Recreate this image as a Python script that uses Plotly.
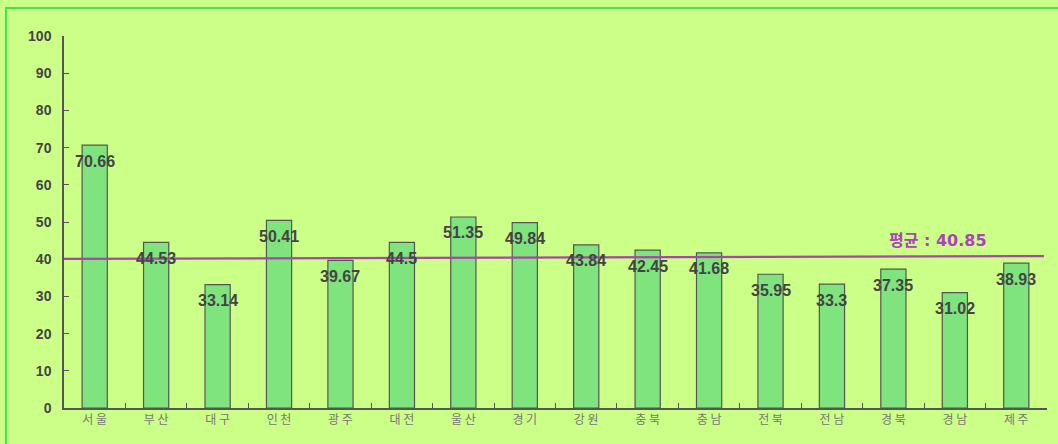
import plotly.graph_objects as go

regions = ["서울", "부산", "대구", "인천", "광주", "대전", "울산", "경기", "강원",
           "충북", "충남", "전북", "전남", "경북", "경남", "제주"]
values = [70.66, 44.53, 33.14, 50.41, 39.67, 44.5, 51.35, 49.84, 43.84,
          42.45, 41.68, 35.95, 33.3, 37.35, 31.02, 38.93]
tick_labels = ["서 울", "부 산", "대 구", "인 천", "광 주", "대 전", "울 산", "경 기", "강 원",
               "충 북", "충 남", "전 북", "전 남", "경 북", "경 남", "제 주"]
average = 40.85
avg_label = "평균 : 40.85"
y_ticks = [0, 10, 20, 30, 40, 50, 60, 70, 80, 90, 100]

bg = "#CCFF88"
fig = go.Figure()
fig.add_trace(go.Bar(
    x=regions, y=values,
    marker=dict(color="#80E47E", line=dict(color="#555555", width=1.2)),
    width=0.41, hoverinfo="x+y",
))

for r, v in zip(regions, values):
    fig.add_annotation(x=r, y=v, yshift=-16, text=str(v), showarrow=False,
                       font=dict(family="Liberation Sans, Arial", size=16, color="#444444", weight="bold"))

# average line
fig.add_shape(type="line", xref="x", yref="y", x0=-0.5, x1=15.45, y0=40.1, y1=average,
              line=dict(color="#A845A8", width=2.2))
fig.add_annotation(x=13.72, y=45.1, text=avg_label, showarrow=False,
                   font=dict(family="DejaVu Sans, Noto Sans CJK KR", size=16, color="#AA44BB", weight="bold"))

# outer border
fig.add_shape(type="rect", xref="paper", yref="paper",
              x0=-58/983, y0=-40/372, x1=1.05, y1=1 + 28/372,
              line=dict(color="#44E644", width=2), fillcolor="rgba(0,0,0,0)", layer="below")

fig.update_layout(
    width=1058, height=444,
    margin=dict(l=64, r=11, t=36, b=36),
    paper_bgcolor=bg, plot_bgcolor=bg,
    showlegend=False,
    xaxis=dict(
        type="category", tickvals=regions, ticktext=tick_labels,
        showline=True, linecolor="#555555", linewidth=1.5,
        ticks="inside", ticklen=5, tickcolor="#555555", tickson="boundaries",
        showgrid=False, zeroline=False, range=[-0.5, 15.5],
        tickfont=dict(family="Noto Sans CJK KR", size=12, color="#777777"),
    ),
    yaxis=dict(
        range=[0, 100], tickvals=y_ticks,
        showline=True, linecolor="#555555", linewidth=1.5,
        ticks="inside", ticklen=5, tickcolor="#555555",
        showgrid=False, zeroline=False,
        tickfont=dict(family="Liberation Sans, Arial", size=14, color="#444444", weight="bold"),
        ticklabelstandoff=8,
    ),
)

fig.write_html("out.html")
